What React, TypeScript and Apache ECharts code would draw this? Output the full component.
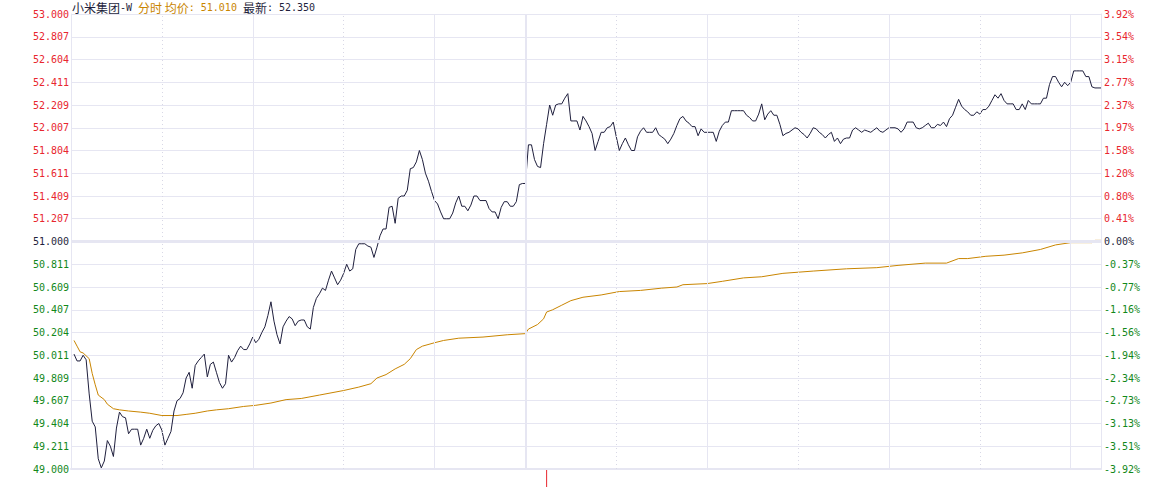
import React, { useEffect, useRef } from 'react';
import * as echarts from 'echarts';

const stockName = '小米集团';
const stockSuffix = '-W';
const prevClose = 51.0;

const leftTickLabels = [
  '53.000', '52.807', '52.604', '52.411', '52.209', '52.007', '51.804', '51.611', '51.409', '51.207',
  '51.000',
  '50.811', '50.609', '50.407', '50.204', '50.011', '49.809', '49.607', '49.404', '49.211', '49.000',
];
const rightTickLabels = [
  '3.92%', '3.54%', '3.15%', '2.77%', '2.37%', '1.97%', '1.58%', '1.20%', '0.80%', '0.41%',
  '0.00%',
  '-0.37%', '-0.77%', '-1.16%', '-1.56%', '-1.94%', '-2.34%', '-2.73%', '-3.13%', '-3.51%', '-3.92%',
];

// minutes since 9:30 (morning 0-150, afternoon 150-330, closing auction 330-340)
const dottedTimeLines = [30, 90, 180, 240, 300];
const solidTimeLines = [60, 120, 210, 270, 330];
const lunchBreakLine = 150;

// last price per minute, minute 1 .. 340
const prices = [
  50.01, 49.95, 49.95, 50.00, 49.96, 49.66, 49.42, 49.37, 49.09, 49.01,
  49.07, 49.25, 49.20, 49.11, 49.36, 49.50, 49.46, 49.45, 49.31, 49.35,
  49.35, 49.35, 49.21, 49.27, 49.35, 49.27, 49.34, 49.38, 49.40, 49.34,
  49.21, 49.27, 49.33, 49.51, 49.60, 49.62, 49.67, 49.80, 49.85, 49.71,
  49.91, 49.95, 49.98, 50.01, 49.81, 49.92, 49.94, 49.85, 49.76, 49.71,
  49.75, 50.00, 49.94, 49.98, 50.04, 50.08, 50.05, 50.05, 50.10, 50.16,
  50.11, 50.14, 50.20, 50.25, 50.35, 50.47, 50.30, 50.18, 50.10, 50.25,
  50.30, 50.34, 50.32, 50.26, 50.30, 50.31, 50.31, 50.25, 50.23, 50.42,
  50.50, 50.54, 50.59, 50.57, 50.66, 50.74, 50.68, 50.62, 50.66, 50.72,
  50.80, 50.74, 50.76, 50.93, 50.98, 50.98, 50.98, 50.96, 50.95, 50.86,
  50.95, 51.05, 51.11, 51.11, 51.30, 51.31, 51.16, 51.38, 51.40, 51.40,
  51.45, 51.64, 51.65, 51.70, 51.80, 51.72, 51.60, 51.53, 51.44, 51.36,
  51.33, 51.26, 51.20, 51.20, 51.20, 51.25, 51.34, 51.40, 51.31, 51.31,
  51.27, 51.32, 51.40, 51.40, 51.36, 51.36, 51.36, 51.29, 51.26, 51.26,
  51.20, 51.30, 51.35, 51.35, 51.31, 51.31, 51.35, 51.50, 51.51, 51.51,
  51.85, 51.85, 51.72, 51.66, 51.65, 51.86, 52.03, 52.20, 52.11, 52.20,
  52.21, 52.21, 52.26, 52.30, 52.06, 52.06, 52.06, 51.98, 52.10, 52.06,
  52.01, 51.95, 51.80, 51.88, 51.96, 51.96, 52.00, 52.01, 52.05, 51.92,
  51.80, 51.86, 51.91, 51.85, 51.80, 51.80, 51.92, 51.97, 52.00, 51.96,
  51.96, 51.96, 52.00, 51.94, 51.92, 51.90, 51.86, 51.90, 51.95, 52.02,
  52.08, 52.10, 52.06, 52.04, 52.01, 52.01, 51.93, 51.99, 51.96, 51.96,
  51.96, 51.96, 51.88, 51.97, 52.02, 52.05, 52.05, 52.15, 52.15, 52.15,
  52.15, 52.15, 52.11, 52.09, 52.06, 52.06, 52.12, 52.21, 52.07, 52.12,
  52.15, 52.11, 52.11, 52.03, 51.93, 51.95, 51.96, 51.98, 52.00, 51.99,
  51.96, 51.94, 51.91, 51.95, 52.00, 51.99, 51.96, 51.94, 51.91, 51.94,
  51.96, 51.88, 51.91, 51.86, 51.90, 51.91, 51.91, 51.98, 52.00, 51.98,
  51.96, 51.98, 51.97, 51.96, 51.98, 52.00, 51.97, 51.96, 51.98, 52.00,
  52.00, 52.00, 51.99, 51.96, 51.99, 52.05, 52.05, 52.05, 52.00, 51.99,
  52.00, 52.02, 52.04, 52.00, 52.00, 52.03, 52.02, 52.05, 52.01, 52.08,
  52.11, 52.18, 52.25, 52.19, 52.16, 52.14, 52.11, 52.11, 52.14, 52.12,
  52.16, 52.16, 52.19, 52.24, 52.29, 52.26, 52.30, 52.24, 52.21, 52.21,
  52.21, 52.16, 52.16, 52.21, 52.16, 52.24, 52.21, 52.21, 52.21, 52.21,
  52.26, 52.26, 52.38, 52.45, 52.45, 52.40, 52.36, 52.40, 52.37, 52.40,
  52.50, 52.50, 52.50, 52.50, 52.45, 52.45, 52.36, 52.35, 52.35, 52.35,
];

// average price readings [minute, price]
const avgPoints: [number, number][] = [
  [1, 50.13], [2, 50.08], [3, 50.03], [4, 50.02], [6, 49.97], [7, 49.84], [8, 49.74], [9, 49.65],
  [11, 49.61], [12, 49.57], [14, 49.53], [16, 49.52], [19, 49.51], [23, 49.50], [26, 49.49],
  [30, 49.47], [35, 49.47], [38, 49.48], [41, 49.49], [45, 49.51], [48, 49.52], [52, 49.53],
  [57, 49.55], [61, 49.56], [66, 49.58], [71, 49.61], [76, 49.62], [82, 49.65], [90, 49.69],
  [95, 49.72], [99, 49.75], [101, 49.80], [104, 49.83], [107, 49.88], [110, 49.92], [112, 49.97],
  [114, 50.05], [116, 50.08], [120, 50.11], [123, 50.13], [128, 50.15], [136, 50.16], [144, 50.18],
  [150, 50.19], [151, 50.23], [154, 50.27], [156, 50.32], [157, 50.38], [159, 50.40], [162, 50.44],
  [165, 50.48], [169, 50.51], [175, 50.53], [181, 50.56], [188, 50.57], [195, 50.59], [200, 50.60],
  [202, 50.62], [210, 50.63], [215, 50.65], [222, 50.68], [228, 50.69], [235, 50.72], [245, 50.74],
  [256, 50.76], [266, 50.77], [273, 50.79], [282, 50.81], [289, 50.81], [293, 50.85], [296, 50.85],
  [302, 50.87], [308, 50.88], [314, 50.90], [320, 50.93], [325, 50.97], [330, 50.99], [337, 50.99],
  [338, 51.01], [340, 51.01],
];

// visible volume bar [minute, relative height]
const volumeBars: [number, number][] = [[157, 100]];

export default function App() {
  const ref = useRef<HTMLDivElement>(null);

  useEffect(() => {
    if (!ref.current) return;
    const chart = echarts.init(ref.current, null, { renderer: 'svg' });

    const RED = '#e8262e';
    const GREEN = '#12881a';
    const DARK = '#1f1f3d';
    const ORANGE = '#c98500';
    const GRID = '#e6e6f2';
    const MONO = '"DejaVu Sans Mono", monospace';
    const CJK = '"Noto Sans CJK SC"';

    const tickIdx = (v: any) => Math.round((53 - Number(v)) / 0.2);
    const labelColor = (v: any) => {
      const i = tickIdx(v);
      return i < 10 ? RED : i === 10 ? DARK : GREEN;
    };

    const lastPrice = prices[prices.length - 1];
    const lastAvg = avgPoints[avgPoints.length - 1][1];

    chart.setOption({
      animation: false,
      backgroundColor: '#ffffff',
      graphic: [
        {
          type: 'text',
          x: 72,
          y: 1,
          silent: true,
          style: {
            text:
              `{d|${stockName}}{dm|${stockSuffix} }{o|分时 均价}{om|: ${lastAvg.toFixed(3)} }` +
              `{d|最新}{dm|: ${lastPrice.toFixed(3)}}`,
            verticalAlign: 'top',
            rich: {
              d: { fill: DARK, fontSize: 12, fontFamily: CJK, lineHeight: 12 },
              dm: { fill: DARK, fontSize: 10, fontFamily: MONO, lineHeight: 12 },
              o: { fill: ORANGE, fontSize: 12, fontFamily: CJK, lineHeight: 12 },
              om: { fill: ORANGE, fontSize: 10, fontFamily: MONO, lineHeight: 12 },
            },
          },
        },
      ],
      grid: [
        { left: 71, top: 14, width: 1030, height: 455, show: false },
        { left: 71, top: 470, width: 1030, height: 200, show: false },
      ],
      xAxis: [
        {
          type: 'value',
          gridIndex: 0,
          min: 0,
          max: 340,
          axisLine: { show: true, onZero: false, lineStyle: { color: GRID, width: 2 } },
          axisTick: { show: false },
          axisLabel: { show: false },
          splitLine: { show: false },
        },
        {
          type: 'value',
          gridIndex: 1,
          min: 0,
          max: 340,
          show: false,
        },
      ],
      yAxis: [
        {
          type: 'value',
          gridIndex: 0,
          min: 49,
          max: 53,
          interval: 0.2,
          position: 'left',
          axisLine: { show: true, lineStyle: { color: GRID, width: 1 } },
          axisTick: { show: false },
          splitLine: { show: true, lineStyle: { color: GRID, width: 1 } },
          axisLabel: {
            margin: 2,
            fontFamily: MONO,
            fontSize: 10,
            color: labelColor,
            formatter: (v: number) => leftTickLabels[tickIdx(v)] ?? '',
          },
        },
        {
          type: 'value',
          gridIndex: 0,
          min: 49,
          max: 53,
          interval: 0.2,
          position: 'right',
          axisLine: { show: true, lineStyle: { color: GRID, width: 1 } },
          axisTick: { show: false },
          splitLine: { show: false },
          axisLabel: {
            margin: 3,
            fontFamily: MONO,
            fontSize: 10,
            color: labelColor,
            formatter: (v: number) => rightTickLabels[tickIdx(v)] ?? '',
          },
        },
        {
          type: 'value',
          gridIndex: 1,
          min: 0,
          max: 100,
          show: false,
        },
      ],
      series: [
        {
          type: 'line',
          name: 'gridlines',
          xAxisIndex: 0,
          yAxisIndex: 0,
          data: [],
          z: 0,
          silent: true,
          markLine: {
            symbol: 'none',
            silent: true,
            animation: false,
            label: { show: false },
            emphasis: { disabled: true },
            data: [
              ...dottedTimeLines.map((m) => ({
                xAxis: m,
                lineStyle: { type: [1, 3], color: '#d8d8e6', width: 1 },
              })),
              ...solidTimeLines.map((m) => ({
                xAxis: m,
                lineStyle: { type: 'solid', color: GRID, width: 1 },
              })),
              { xAxis: lunchBreakLine, lineStyle: { type: 'solid', color: GRID, width: 2 } },
              { yAxis: prevClose, lineStyle: { type: 'solid', color: GRID, width: 3 } },
            ],
          },
        },
        {
          type: 'line',
          name: '均价',
          xAxisIndex: 0,
          yAxisIndex: 0,
          data: avgPoints,
          showSymbol: false,
          symbol: 'none',
          z: 2,
          lineStyle: { color: ORANGE, width: 1 },
        },
        {
          type: 'line',
          name: '价格',
          xAxisIndex: 0,
          yAxisIndex: 0,
          data: prices.map((p, i) => [i + 1, p]),
          showSymbol: false,
          symbol: 'none',
          z: 3,
          lineStyle: { color: DARK, width: 1 },
        },
        {
          type: 'bar',
          name: '成交量',
          xAxisIndex: 1,
          yAxisIndex: 2,
          data: volumeBars,
          barWidth: 1,
          itemStyle: { color: RED },
        },
      ],
    });

    return () => chart.dispose();
  }, []);

  return (
    <div
      ref={ref}
      style={{ position: 'absolute', left: 0, top: 0, width: 1167, height: 487, background: '#fff' }}
    />
  );
}
